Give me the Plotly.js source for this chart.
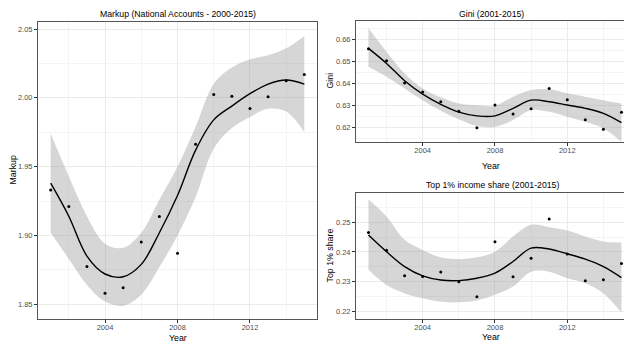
<!DOCTYPE html>
<html>
<head>
<meta charset="utf-8">
<script src="https://cdn.plot.ly/plotly-3.0.1.min.js"></script>
<style>
  html, body { margin: 0; padding: 0; background: #fff; }
  #chart { width: 624px; height: 342px; }
</style>
</head>
<body>
<div id="chart"></div>
<script>
// Observation years
const years = [2001, 2002, 2003, 2004, 2005, 2006, 2007, 2008, 2009, 2010, 2011, 2012, 2013, 2014, 2015];

// Markup (national accounts)
const markup      = [1.933, 1.921, 1.8775, 1.858, 1.862, 1.8953, 1.9138, 1.8871, 1.9663, 2.0024, 2.0012, 1.9922, 2.0007, 2.0124, 2.0169];
const markupFit   = [1.938, 1.914, 1.885, 1.872, 1.870, 1.879, 1.902, 1.929, 1.962, 1.984, 1.994, 2.003, 2.010, 2.013, 2.010];
const markupUpper = [1.974, 1.943, 1.914, 1.894, 1.891, 1.902, 1.926, 1.950, 1.979, 2.010, 2.022, 2.028, 2.031, 2.036, 2.045];
const markupLower = [1.902, 1.883, 1.864, 1.852, 1.849, 1.857, 1.877, 1.900, 1.928, 1.963, 1.978, 1.986, 1.992, 1.990, 1.975];

// Gini coefficient
const gini      = [0.6557, 0.6503, 0.6402, 0.6362, 0.6318, 0.6275, 0.6200, 0.6303, 0.6262, 0.6286, 0.6378, 0.6327, 0.6236, 0.6193, 0.6270];
const giniFit   = [0.6559, 0.6491, 0.6413, 0.6352, 0.6306, 0.6271, 0.6254, 0.6254, 0.6288, 0.6325, 0.6318, 0.6303, 0.6288, 0.6265, 0.6223];
const giniUpper = [0.6650, 0.6544, 0.6446, 0.6378, 0.6338, 0.6310, 0.6302, 0.6300, 0.6340, 0.6371, 0.6374, 0.6356, 0.6340, 0.6325, 0.6310];
const giniLower = [0.6476, 0.6431, 0.6378, 0.6325, 0.6277, 0.6238, 0.6208, 0.6205, 0.6235, 0.6280, 0.6272, 0.6250, 0.6227, 0.6197, 0.6137];

// Top 1% income share
const top1      = [0.2465, 0.2406, 0.2320, 0.2318, 0.2333, 0.2300, 0.2250, 0.2434, 0.2317, 0.2379, 0.2511, 0.2393, 0.2303, 0.2307, 0.2361];
const top1Fit   = [0.2457, 0.2401, 0.2351, 0.2320, 0.2306, 0.2304, 0.2312, 0.2329, 0.2368, 0.2413, 0.2410, 0.2394, 0.2376, 0.2351, 0.2314];
const top1Upper = [0.2577, 0.2519, 0.2441, 0.2407, 0.2382, 0.2376, 0.2382, 0.2401, 0.2452, 0.2491, 0.2483, 0.2472, 0.2452, 0.2435, 0.2432];
const top1Lower = [0.2340, 0.2289, 0.2261, 0.2245, 0.2233, 0.2231, 0.2237, 0.2256, 0.2284, 0.2334, 0.2334, 0.2312, 0.2295, 0.2261, 0.2197];

const W = 624, H = 342;
const px = v => v / W;
const py = v => 1 - v / H;

const FONT = 'Liberation Sans, Arial, sans-serif';
const BAND = 'rgba(153,153,153,0.4)';

function panel(xa, ya, y, fit, upper, lower) {
  return [
    { x: years, y: lower, xaxis: xa, yaxis: ya, type: 'scatter', mode: 'lines',
      line: { width: 0, shape: 'spline' }, hoverinfo: 'skip', showlegend: false },
    { x: years, y: upper, xaxis: xa, yaxis: ya, type: 'scatter', mode: 'lines',
      line: { width: 0, shape: 'spline' }, fill: 'tonexty', fillcolor: BAND,
      hoverinfo: 'skip', showlegend: false },
    { x: years, y: fit, xaxis: xa, yaxis: ya, type: 'scatter', mode: 'lines',
      line: { color: '#000', width: 1.4, shape: 'spline' }, showlegend: false },
    { x: years, y: y, xaxis: xa, yaxis: ya, type: 'scatter', mode: 'markers',
      marker: { color: '#000', size: 3 }, showlegend: false }
  ];
}

const data = [].concat(
  panel('x', 'y', markup, markupFit, markupUpper, markupLower),
  panel('x2', 'y2', gini, giniFit, giniUpper, giniLower),
  panel('x3', 'y3', top1, top1Fit, top1Upper, top1Lower)
);

const tickFont = { family: FONT, size: 7.5, color: '#4D4D4D' };

function xAxis(domain, range, anchor) {
  return {
    domain: domain, range: range, anchor: anchor,
    tickmode: 'linear', tick0: 2000, dtick: 4,
    minor: { dtick: 2, tick0: 2000, showgrid: true, gridcolor: '#F4F4F4', gridwidth: 1 },
    showgrid: true, gridcolor: '#EBEBEB', gridwidth: 1,
    ticks: 'outside', ticklen: 3, tickcolor: '#333', tickwidth: 1,
    ticklabelstandoff: -2,
    showline: true, linecolor: '#555', linewidth: 1, mirror: true,
    zeroline: false, tickfont: tickFont, fixedrange: true
  };
}
function yAxis(domain, range, anchor, dtick, tick0, mirror) {
  return {
    domain: domain, range: range, anchor: anchor,
    tickmode: 'linear', tick0: tick0, dtick: dtick, tickformat: '.2f',
    minor: { dtick: dtick / 2, tick0: tick0, showgrid: true, gridcolor: '#F4F4F4', gridwidth: 1 },
    showgrid: true, gridcolor: '#EBEBEB', gridwidth: 1,
    ticks: 'outside', ticklen: 3, tickcolor: '#333', tickwidth: 1,
    showline: true, linecolor: '#555', linewidth: 1, mirror: mirror,
    zeroline: false, tickfont: tickFont, fixedrange: true
  };
}

function label(text, x, y, size, angle) {
  return {
    text: text, xref: 'paper', yref: 'paper', x: px(x), y: py(y),
    xanchor: 'center', yanchor: 'middle', showarrow: false,
    textangle: angle || 0,
    font: { family: FONT, size: size, color: '#000' }
  };
}

const layout = {
  width: W, height: H,
  margin: { l: 0, r: 0, t: 0, b: 0 },
  paper_bgcolor: '#fff', plot_bgcolor: '#fff',
  showlegend: false,
  xaxis:  xAxis([px(38), px(317)], [2000.3, 2015.7], 'y'),
  yaxis:  yAxis([py(319), py(22)], [1.8393, 2.0551], 'x', 0.05, 1.85, true),
  xaxis2: xAxis([px(356), 1], [2000.31, 2015.14], 'y2'),
  yaxis2: yAxis([py(141.7), py(21)], [0.6137, 0.6683], 'x2', 0.01, 0.62, false),
  xaxis3: xAxis([px(356), 1], [2000.31, 2015.14], 'y3'),
  yaxis3: yAxis([py(319.3), py(192.7)], [0.2174, 0.2599], 'x3', 0.01, 0.22, false),
  annotations: [
    label('Markup (National Accounts - 2000-2015)', 177.5, 13.5, 8.7),
    label('Gini (2001-2015)', 491, 13.5, 8.7),
    label('Top 1% income share (2001-2015)', 492, 184.5, 8.7),
    label('Year', 177.5, 338, 8.8),
    label('Year', 491, 165.5, 8.8),
    label('Year', 491, 336.5, 8.8),
    label('Markup', 12, 170.5, 8.8, -90),
    label('Gini', 329.5, 81, 8.8, -90),
    label('Top 1% share', 329.5, 256, 8.8, -90)
  ]
};

Plotly.newPlot('chart', data, layout, { staticPlot: true, displayModeBar: false });
</script>
</body>
</html>
